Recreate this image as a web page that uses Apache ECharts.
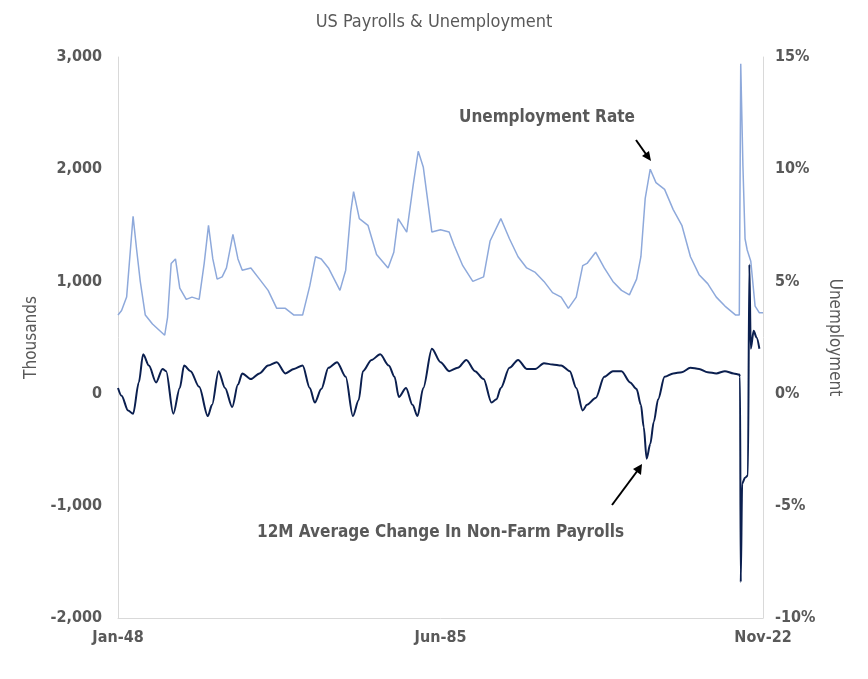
<!DOCTYPE html>
<html><head><meta charset="utf-8">
<script src="https://cdn.jsdelivr.net/npm/echarts@6/dist/echarts.min.js"></script>
<style>html,body{margin:0;background:#fff}#c{width:868px;height:679px}</style>
</head><body><div id="c"></div>
<script>
const xTickLabels = ['Jan-48','Jun-85','Nov-22'];
const urDates = ['1948-01','1948-06','1949-01','1949-07','1949-10','1950-03','1950-08','1951-03','1952-01','1953-06','1953-10','1954-03','1954-09','1955-03','1955-12','1956-08','1957-06','1958-01','1958-07','1959-01','1959-07','1960-02','1960-08','1961-05','1961-12','1962-06','1963-06','1964-06','1965-06','1966-06','1967-06','1968-06','1969-06','1970-04','1970-12','1971-08','1972-06','1973-10','1974-06','1975-01','1975-05','1976-01','1977-01','1978-01','1979-05','1980-01','1980-07','1981-07','1982-04','1982-11','1983-06','1984-06','1985-06','1986-06','1987-01','1988-01','1989-03','1990-06','1991-03','1992-06','1993-06','1994-06','1995-06','1996-06','1997-06','1998-06','1999-06','2000-04','2001-03','2001-12','2002-06','2003-06','2004-06','2005-06','2006-06','2007-05','2008-03','2008-09','2009-03','2009-10','2010-06','2011-06','2012-06','2013-06','2014-06','2015-06','2016-06','2017-06','2018-06','2019-09','2020-02','2020-04','2020-07','2020-10','2021-01','2021-06','2021-12','2022-06','2022-11'];
const urValues = [3.5,3.7,4.3,6.7,7.9,6.4,5.0,3.5,3.1,2.6,3.4,5.8,6.0,4.7,4.2,4.3,4.2,5.8,7.5,6.0,5.1,5.2,5.6,7.1,6.0,5.5,5.6,5.1,4.6,3.8,3.8,3.5,3.5,4.8,6.1,6.0,5.6,4.6,5.5,8.1,9.0,7.8,7.5,6.2,5.6,6.3,7.8,7.2,9.3,10.8,10.1,7.2,7.3,7.2,6.6,5.7,5.0,5.2,6.8,7.8,6.9,6.1,5.6,5.4,5.0,4.5,4.3,3.8,4.3,5.7,5.8,6.3,5.6,5.0,4.6,4.4,5.1,6.1,8.7,10.0,9.4,9.1,8.2,7.5,6.1,5.3,4.9,4.3,3.9,3.5,3.5,14.7,10.2,6.9,6.4,5.9,3.9,3.6,3.6];
const nfpDates = ['1948-01','1948-06','1949-03','1949-10','1950-06','1950-12','1951-08','1952-06','1953-03','1953-08','1954-06','1955-03','1955-09','1956-06','1957-06','1958-06','1958-12','1959-09','1960-06','1961-04','1961-12','1962-06','1963-06','1964-06','1965-06','1966-06','1967-06','1968-06','1969-06','1970-04','1970-11','1971-08','1972-06','1973-06','1974-06','1975-04','1975-12','1976-06','1977-06','1978-06','1979-06','1980-02','1980-08','1981-06','1982-03','1982-10','1983-06','1984-06','1985-06','1986-06','1987-06','1988-06','1989-06','1990-06','1991-05','1991-12','1992-06','1993-06','1994-06','1995-06','1996-06','1997-06','1998-06','1999-06','2000-06','2001-03','2001-12','2002-06','2003-06','2004-06','2005-06','2006-06','2007-06','2008-03','2008-09','2009-01','2009-05','2009-10','2010-03','2010-09','2011-06','2012-06','2013-06','2014-06','2015-06','2016-06','2017-06','2018-06','2019-06','2020-02','2020-03','2020-04','2020-06','2020-10','2021-02','2021-04','2021-06','2021-10','2022-02','2022-06','2022-11'];
const nfpValues = [50,-20,-150,-180,100,350,250,100,220,200,-180,50,250,200,60,-200,-100,200,50,-120,80,180,130,180,250,280,180,220,250,50,-80,40,230,280,150,-200,-60,200,300,350,250,150,-30,50,-100,-200,50,400,280,200,230,300,200,130,-80,-50,50,230,300,220,220,270,260,250,200,50,-150,-100,-40,150,200,200,100,40,-100,-300,-580,-450,-250,-50,150,180,190,230,220,190,180,200,180,170,150,-1680,-800,-750,-730,1150,400,560,500,400];
const toIdx = d => { const [y,m] = d.split('-').map(Number); return (y-1948)*12 + (m-1); };
const ur = urDates.map((d,i)=>[toIdx(d), urValues[i]]);
const nfp = nfpDates.map((d,i)=>[toIdx(d), nfpValues[i]]);
const F = '"DejaVu Sans Condensed","Liberation Sans Narrow",sans-serif';
const C = '#595959';
const chart = echarts.init(document.getElementById('c'));
chart.setOption({
  animation:false,
  title:{text:'US Payrolls & Unemployment',left:'center',top:8,textStyle:{fontFamily:F,fontSize:18,color:C,fontWeight:'normal'}},
  grid:{left:118,right:105,top:57,bottom:61},
  xAxis:{type:'value',min:0,max:898,interval:449,
    axisLine:{onZero:false,lineStyle:{color:'#d9d9d9'}},axisTick:{show:false},splitLine:{show:false},
    axisLabel:{fontFamily:F,fontSize:16,fontWeight:'bold',color:C,margin:12,formatter:v=>xTickLabels[Math.round(v/449)]||''}},
  yAxis:[
    {type:'value',min:-2000,max:3000,interval:1000,name:'Thousands',nameLocation:'middle',nameGap:78,
     nameTextStyle:{fontFamily:F,fontSize:17,color:C},
     axisLine:{show:true,lineStyle:{color:'#d9d9d9'}},axisTick:{show:false},splitLine:{show:false},
     axisLabel:{fontFamily:F,fontSize:16,fontWeight:'bold',color:C,margin:16,formatter:v=>v.toLocaleString('en-US')}},
    {type:'value',min:-10,max:15,interval:5,name:'Unemployment',nameLocation:'middle',nameGap:62,nameRotate:-90,
     nameTextStyle:{fontFamily:F,fontSize:17,color:C},
     axisLine:{show:true,lineStyle:{color:'#d9d9d9'}},axisTick:{show:false},splitLine:{show:false},
     axisLabel:{fontFamily:F,fontSize:16,fontWeight:'bold',color:C,margin:12,formatter:v=>v+'%'}}
  ],
  series:[
    {type:'line',yAxisIndex:1,data:ur,showSymbol:false,lineStyle:{color:'#8EA9DB',width:1.5},itemStyle:{color:'#8EA9DB'}},
    {type:'line',yAxisIndex:0,data:nfp,showSymbol:false,smooth:0.3,smoothMonotone:'x',lineStyle:{color:'#0B1F4F',width:2},itemStyle:{color:'#0B1F4F'}}
  ],
  graphic:[
    {type:'text',left:459,top:109,style:{text:'Unemployment Rate',font:'bold 17px '+F,fill:C}},
    {type:'line',shape:{x1:636,y1:140,x2:648,y2:157},style:{stroke:'#000',lineWidth:2}},
    {type:'polygon',shape:{points:[[651,161],[642,156],[649,151]]},style:{fill:'#000'}},
    {type:'text',left:257,top:524,style:{text:'12M Average Change In Non-Farm Payrolls',font:'bold 17px '+F,fill:C}},
    {type:'line',shape:{x1:612,y1:505,x2:638,y2:470},style:{stroke:'#000',lineWidth:2}},
    {type:'polygon',shape:{points:[[642,464],[641,475],[633,469]]},style:{fill:'#000'}}
  ]
});
</script></body></html>
